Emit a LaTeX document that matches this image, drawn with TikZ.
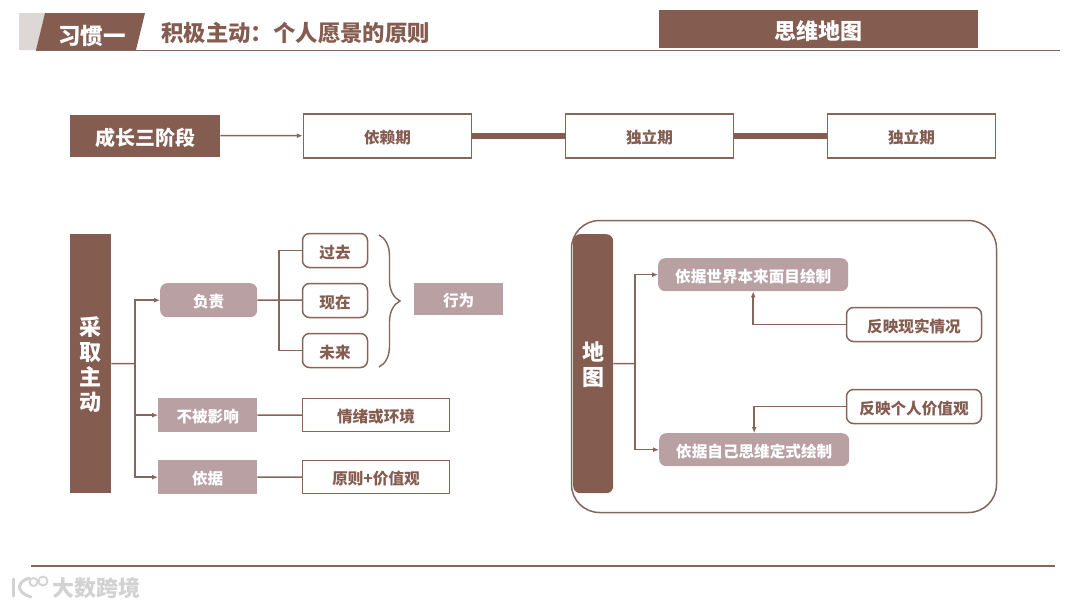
\documentclass[tikz,border=0pt]{standalone}
\usepackage{fontspec}
\setmainfont{Noto Sans CJK SC}
\usetikzlibrary{arrows.meta,calc,decorations.pathreplacing}
\definecolor{brownc}{HTML}{855C50}
\definecolor{pinkc}{HTML}{B9A1A3}
\definecolor{linec}{HTML}{86655B}
\definecolor{tabc}{HTML}{DDD8D6}
\definecolor{markc}{HTML}{D2D2D2}

\begin{document}
\begin{tikzpicture}[
  x=1pt, y=-1pt,
  box/.style  ={rectangle,align=center,inner sep=0pt,anchor=north west,text height=15pt,text depth=0pt,font=\bfseries\fontsize{15.6}{18}\selectfont},
  dark/.style ={box,fill=brownc,text=white},
  soft/.style ={box,fill=pinkc,text=white},
  softr/.style={soft,rounded corners=7pt},
  frame/.style={box,draw=linec,line width=1.5pt,fill=white,text=brownc},
  framer/.style={frame,rounded corners=7pt},
  ln/.style   ={draw=linec,line width=1.5pt},
  arr/.style  ={ln,-{Latex[length=6pt,width=5pt]}},
  bar/.style  ={draw=brownc,line width=5.5pt},
  rule/.style ={draw=linec,line width=1.3pt},
  stack/.style={text height={},text depth=0pt,font=\bfseries\fontsize{22}{25}\selectfont},
]
\useasboundingbox (0,0) rectangle (1080,608);

% ------------------------------------------------------------ header
\fill[tabc] (19,13) -- (45,13) -- (36,50) -- (19,50) -- cycle;
\fill[brownc] (45,13) -- (145,13) -- (136,50) -- (36,50) -- cycle;
\node[text=white,font=\bfseries\fontsize{22.5}{26}\selectfont] (habit) at (92,36) {习惯一};
\node[text=brownc,font=\bfseries\fontsize{22.4}{26}\selectfont,anchor=west,inner sep=0pt] (title) at (161,33) {积极主动：个人愿景的原则};
\node[dark,minimum width=319pt,minimum height=38pt,text height=20pt,font=\bfseries\fontsize{22}{26}\selectfont] (mindmap) at (659,10) {思维地图};
\coordinate (headl) at (36,50.5);
\coordinate (headr) at (1060,50.5);
\draw[rule] (headl) -- (headr);

% ------------------------------------------------------------ three stages
\node[dark,minimum width=150pt,minimum height=42pt,text height=20pt,font=\bfseries\fontsize{20}{24}\selectfont] (grow) at (70,114.5) {成长三阶段};
\node[frame,minimum width=168pt,minimum height=44pt] (dep) at (302.75,113) {依赖期};
\node[frame,minimum width=168pt,minimum height=44pt] (ind) at (564.75,113) {独立期};
\node[frame,minimum width=168pt,minimum height=44pt] (inter) at (826.75,113) {独立期};
\draw[arr] (grow) -- (dep);
\draw[bar] (dep) -- (ind);
\draw[bar] (ind) -- (inter);

% ------------------------------------------------------------ left panel
\node[dark,stack,minimum width=41pt,minimum height=259pt] (act) at (70,234) {采\\取\\主\\动};
\node[softr,minimum width=97pt,minimum height=34pt] (resp) at (160,283) {负责};
\node[soft,minimum width=99pt,minimum height=34pt] (free) at (158,398) {不被影响};
\node[soft,minimum width=99pt,minimum height=34pt] (base) at (158,460) {依据};
\coordinate (acttrunk) at (135,363.5);
\draw[ln] (act) -- (acttrunk);
\foreach \to in {resp,free,base}
  \draw[arr] (acttrunk) |- (\to.west);

% three times
\coordinate (resptrunk) at (279,300);
\foreach \name/\yo/\txt in {past/232.75/过去, now/282.75/现在, next/332.75/未来} {
  \node[framer,minimum width=65pt,minimum height=34pt] (\name) at (301.75,\yo) {\txt};
  \draw[ln] (resptrunk) |- (\name.west);
}
\draw[ln] (resp) -- (resptrunk);
\draw[ln] (resptrunk) -- (now);

% brace and its result
\coordinate (bracet) at (379,235);
\coordinate (braceb) at (379,367);
\draw[draw=linec,line width=1.4pt,decorate,decoration={brace,amplitude=21pt,aspect=0.5}] (bracet) -- (braceb);
\node[soft,minimum width=89pt,minimum height=32pt] (deed) at (414,283) {行为};

\node[frame,minimum width=147pt,minimum height=33pt] (mood) at (301.75,397.75) {情绪或环境};
\node[frame,minimum width=147pt,minimum height=33pt] (prin) at (301.75,459.75) {原则+价值观};
\draw[ln] (free) -- (mood);
\draw[ln] (base) -- (prin);

% ------------------------------------------------------------ right panel
\node[box,draw=linec,line width=1.5pt,rounded corners=28pt,minimum width=425pt,minimum height=292pt] (panel) at (570.75,219.75) {};
\node[dark,stack,rounded corners=7pt,minimum width=40pt,minimum height=259pt] (map) at (573,234) {地\\图};
\node[softr,minimum width=190pt,minimum height=33pt] (world) at (658,258) {依据世界本来面目绘制};
\node[softr,minimum width=190pt,minimum height=33pt] (self) at (659,433) {依据自己思维定式绘制};
\node[framer,minimum width=135pt,minimum height=34pt] (real) at (845.75,306.75) {反映现实情况};
\node[framer,minimum width=135pt,minimum height=34pt] (value) at (845.75,388.75) {反映个人价值观};
\coordinate (maptrunk) at (635,363.5);
\draw[ln] (map) -- (maptrunk);
\draw[arr] (maptrunk) |- (world.west);
\draw[arr] (maptrunk) |- (self.west);
\draw[arr] (real.west) -| (world.south);
\draw[arr] (value.west) -| (self.north);

% ------------------------------------------------------------ footer
\coordinate (footl) at (31,566);
\coordinate (footr) at (1055,566);
\draw[rule] (footl) -- (footr);
\draw[markc,line width=3pt,line cap=round] (13,579) -- (13,596);
\draw[markc,line width=3pt,line cap=round] (29,578) .. controls (17,582) and (15,592) .. (31,597);
\draw[markc,line width=1.8pt] (33.5,582) circle (4pt) (43,581) circle (4.5pt);
\node[text=markc,font=\bfseries\fontsize{22}{24}\selectfont,anchor=west,inner sep=0pt] (brand) at (52,588) {大数跨境};
\end{tikzpicture}
\end{document}
